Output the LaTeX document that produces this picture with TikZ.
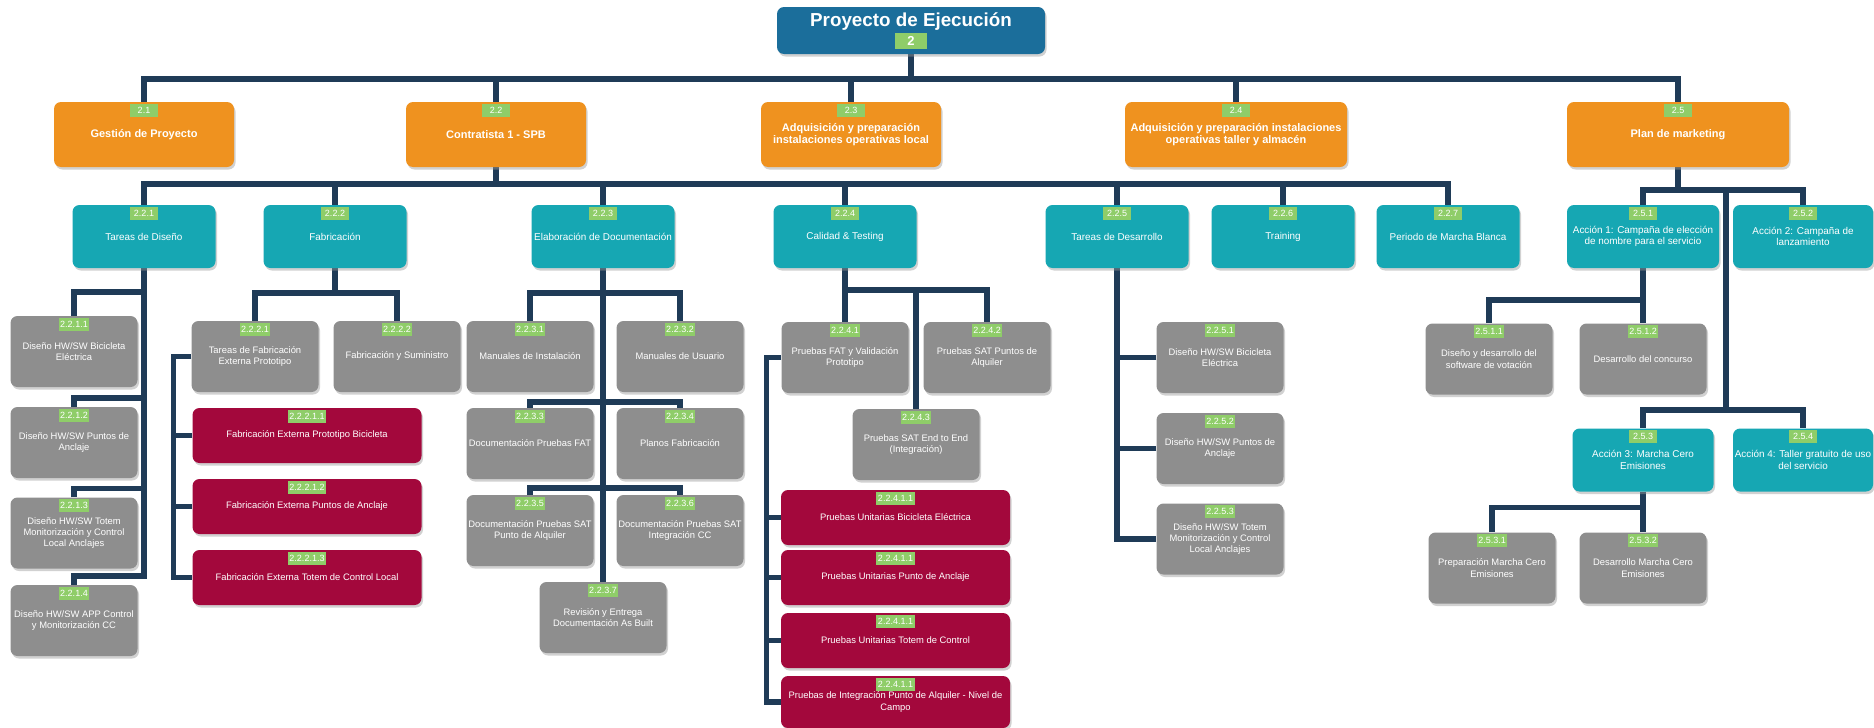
\documentclass[tikz,border=0pt]{standalone}
\usepackage{fontspec}
\setmainfont{Liberation Sans}
\usepackage{xcolor}
\usepackage{tikz}
\usetikzlibrary{shapes}
\usetikzlibrary{shadows}
\usetikzlibrary{backgrounds}

\definecolor{rootblue}{RGB}{27,110,155}
\definecolor{phaseorange}{RGB}{239,146,31}
\definecolor{taskteal}{RGB}{22,167,179}
\definecolor{itemgray}{RGB}{142,142,142}
\definecolor{subitemred}{RGB}{163,8,60}
\definecolor{codegreen}{RGB}{143,205,105}
\definecolor{linenavy}{RGB}{31,59,87}

\begin{document}
\begin{tikzpicture} [x=1pt, y=-1pt,
            % ----- Node definitions ----- %
            wbsbox/.style = {
                rectangle,
                rounded corners=7pt,
                align=center,
                text=white,
                inner xsep=1pt,
                inner ysep=0pt,
                drop shadow={shadow xshift=1.5pt, shadow yshift=-2.5pt, fill=black!40, opacity=0.45}
            },
            rootnode/.style = {
                wbsbox,
                fill=rootblue,
                minimum width=268pt,
                text height=16pt, text depth=25pt, inner ysep=3pt,
                font=\bfseries\fontsize{18.8}{20}\selectfont
            },
            phasenode/.style = {
                wbsbox,
                fill=phaseorange,
                minimum width=#1, minimum height=65pt,
                font=\bfseries\fontsize{11}{12.5}\selectfont
            },
            phasenode/.default=180pt,
            tasknode/.style = {
                wbsbox,
                fill=taskteal,
                minimum width=#1, minimum height=63pt,
                font=\fontsize{9.9}{11.5}\selectfont
            },
            tasknode/.default=143pt,
            itemnode/.style = {
                wbsbox,
                fill=itemgray,
                minimum width=127pt, minimum height=71pt,
                font=\fontsize{9.4}{11.3}\selectfont
            },
            subitemnode/.style = {
                wbsbox,
                fill=subitemred,
                minimum width=229pt, minimum height=#1,
                font=\fontsize{9.4}{11.3}\selectfont
            },
            subitemnode/.default=55pt,
            codenode/.style = {
                rectangle, sharp corners,
                fill=codegreen,
                text=white,
                inner sep=1.5pt,
                minimum width=28pt, minimum height=13pt,
                font=\fontsize{9}{10}\selectfont,
                anchor=north, yshift=-1.5pt
            },
            wbs/.style = {label={[codenode]north:#1}},
            treeline/.style = {draw=linenavy, line width=5.5pt}
    ]
    \useasboundingbox (0,0) rectangle (1874,728);

            % ----- Node constructions ----- %
        \node [rootnode, label={[codenode, font=\bfseries\fontsize{13}{14}\selectfont,
               minimum width=32pt, minimum height=16pt, anchor=south, yshift=7pt]south:2}]
               (root) at (911,30.5) {Proyecto de Ejecución};

        % level 2
        \node [phasenode, wbs=2.1] (p21) at (144,134.5) {Gestión de Proyecto};
        \node [phasenode, wbs=2.2] (p22) at (496,134.5) {Contratista 1 - SPB};
        \node [phasenode, wbs=2.3] (p23) at (851,134.5) {Adquisición y preparación\\instalaciones operativas local};
        \node [phasenode=222pt, wbs=2.4] (p24) at (1236,134.5) {Adquisición y preparación instalaciones\\operativas taller y almacén};
        \node [phasenode=222pt, wbs=2.5] (p25) at (1678,134.5) {Plan de marketing};

        % level 3
        \node [tasknode, wbs=2.2.1] (t221) at (144,236.5) {Tareas de Diseño};
        \node [tasknode, wbs=2.2.2] (t222) at (335,236.5) {Fabricación};
        \node [tasknode, wbs=2.2.3] (t223) at (603,236.5) {Elaboración de Documentación};
        \node [tasknode, wbs=2.2.4] (t224) at (845,236.5) {Calidad \& Testing};
        \node [tasknode, wbs=2.2.5] (t225) at (1117,236.5) {Tareas de Desarrollo};
        \node [tasknode, wbs=2.2.6] (t226) at (1283,236.5) {Training};
        \node [tasknode, wbs=2.2.7] (t227) at (1448,236.5) {Periodo de Marcha Blanca};
        \node [tasknode=152pt, wbs=2.5.1] (t251) at (1643,236.5) {Acción 1: Campaña de elección\\de nombre para el servicio};
        \node [tasknode=140pt, wbs=2.5.2] (t252) at (1803,236.5) {Acción 2: Campaña de\\lanzamiento};
        \node [tasknode=141pt, wbs=2.5.3] (t253) at (1643,460) {Acción 3: Marcha Cero\\Emisiones};
        \node [tasknode=140pt, wbs=2.5.4] (t254) at (1803,460) {Acción 4: Taller gratuito de uso\\del servicio};

        % level 4
        \node [itemnode, wbs=2.2.1.1] (i2211) at (74,351.5) {Diseño HW/SW Bicicleta\\Eléctrica};
        \node [itemnode, wbs=2.2.1.2] (i2212) at (74,442.5) {Diseño HW/SW Puntos de\\Anclaje};
        \node [itemnode, wbs=2.2.1.3] (i2213) at (74,533) {Diseño HW/SW Totem\\Monitorización y Control\\Local Anclajes};
        \node [itemnode, wbs=2.2.1.4] (i2214) at (74,620.5) {Diseño HW/SW APP Control\\y Monitorización CC};

        \node [itemnode, wbs=2.2.2.1] (i2221) at (255,356.5) {Tareas de Fabricación\\Externa Prototipo};
        \node [itemnode, wbs=2.2.2.2] (i2222) at (397,356.5) {Fabricación y Suministro};

        \node [itemnode, wbs=2.2.3.1] (i2231) at (530,356.5) {Manuales de Instalación};
        \node [itemnode, wbs=2.2.3.2] (i2232) at (680,356.5) {Manuales de Usuario};
        \node [itemnode, wbs=2.2.3.3] (i2233) at (530,443.5) {Documentación Pruebas FAT};
        \node [itemnode, wbs=2.2.3.4] (i2234) at (680,443.5) {Planos Fabricación};
        \node [itemnode, wbs=2.2.3.5] (i2235) at (530,530.5) {Documentación Pruebas SAT\\Punto de Alquiler};
        \node [itemnode, wbs=2.2.3.6] (i2236) at (680,530.5) {Documentación Pruebas SAT\\Integración CC};
        \node [itemnode, wbs=2.2.3.7] (i2237) at (603,617.5) {Revisión y Entrega\\Documentación As Built};

        \node [itemnode, wbs=2.2.4.1] (i2241) at (845,357.5) {Pruebas FAT y Validación\\Prototipo};
        \node [itemnode, wbs=2.2.4.2] (i2242) at (987,357.5) {Pruebas SAT Puntos de\\Alquiler};
        \node [itemnode, wbs=2.2.4.3] (i2243) at (916,444.5) {Pruebas SAT End to End\\(Integración)};

        \node [itemnode, wbs=2.2.5.1] (i2251) at (1220,357.5) {Diseño HW/SW Bicicleta\\Eléctrica};
        \node [itemnode, wbs=2.2.5.2] (i2252) at (1220,448.5) {Diseño HW/SW Puntos de\\Anclaje};
        \node [itemnode, wbs=2.2.5.3] (i2253) at (1220,539) {Diseño HW/SW Totem\\Monitorización y Control\\Local Anclajes};

        \node [itemnode, wbs=2.5.1.1] (i2511) at (1489,359) {Diseño y desarrollo del\\software de votación};
        \node [itemnode, wbs=2.5.1.2] (i2512) at (1643,359) {Desarrollo del concurso};
        \node [itemnode, wbs=2.5.3.1] (i2531) at (1492,568) {Preparación Marcha Cero\\Emisiones};
        \node [itemnode, wbs=2.5.3.2] (i2532) at (1643,568) {Desarrollo Marcha Cero\\Emisiones};

        % level 5
        \node [subitemnode, wbs=2.2.2.1.1] (s22211) at (307,435.5) {Fabricación Externa Prototipo Bicicleta};
        \node [subitemnode, wbs=2.2.2.1.2] (s22212) at (307,506.5) {Fabricación Externa Puntos de Anclaje};
        \node [subitemnode, wbs=2.2.2.1.3] (s22213) at (307,577.5) {Fabricación Externa Totem de Control Local};

        \node [subitemnode, wbs=2.2.4.1.1] (s2241a) at (895.5,517.5) {Pruebas Unitarias Bicicleta Eléctrica};
        \node [subitemnode, wbs=2.2.4.1.1] (s2241b) at (895.5,577.5) {Pruebas Unitarias Punto de Anclaje};
        \node [subitemnode, wbs=2.2.4.1.1] (s2241c) at (895.5,640.5) {Pruebas Unitarias Totem de Control};
        \node [subitemnode=52pt, wbs=2.2.4.1.1] (s2241d) at (895.5,702) {Pruebas de Integración Punto de Alquiler - Nivel de\\Campo};

            % ----- Connectors ----- %
        \begin{scope}[on background layer]
            \fill[white] (0,0) rectangle (1874,728);
            \foreach \n in {p21,p22,p23,p24,p25}
                \draw[treeline] (root.south) -- ++(0,25) -| (\n.north);
            \foreach \n in {t221,t222,t223,t224,t225,t226,t227}
                \draw[treeline] (p22.south) -- ++(0,17) -| (\n.north);

            \coordinate (j25) at (1726,410);
            \foreach \n in {t251,t252}
                \draw[treeline] (p25.south) -- ++(0,23) -| (\n.north);
            \draw[treeline] (p25.south) -- ++(0,23) -| (j25);
            \foreach \n in {t253,t254}
                \draw[treeline] (j25) -| (\n.north);

            \draw[treeline] (i2211.north) -- ++(0,-24) -| (t221.south);
            \foreach \n in {i2212,i2213,i2214}
                \draw[treeline] (\n.north) -- ++(0,-9) -| (t221.south);

            \foreach \n in {i2221,i2222}
                \draw[treeline] (t222.south) -- ++(0,25) -| (\n.north);
            \draw[treeline] (i2221.west) -- ++(-18,0) |- (s22213.west);
            \foreach \n in {s22211,s22212}
                \draw[treeline] (\n.west) -- ++(-18,0);

            \draw[treeline] (t223.south) -- (i2237.north);
            \draw[treeline] (i2231.north) -- ++(0,-28) -| (i2232.north);
            \draw[treeline] (i2233.north) -- ++(0,-6) -| (i2234.north);
            \draw[treeline] (i2235.north) -- ++(0,-7) -| (i2236.north);

            \foreach \n in {i2241,i2242,i2243}
                \draw[treeline] (t224.south) -- ++(0,22) -| (\n.north);
            \draw[treeline] (i2241.west) -- ++(-15,0) |- (s2241d.west);
            \foreach \n in {s2241a,s2241b,s2241c}
                \draw[treeline] (\n.west) -- ++(-15,0);

            \draw[treeline] (t225.south) |- (i2253.west);
            \foreach \n in {i2251,i2252}
                \draw[treeline] (\n.west) -- (\n.west -| t225.south);

            \foreach \n in {i2511,i2512}
                \draw[treeline] (t251.south) -- ++(0,32) -| (\n.north);
            \foreach \n in {i2531,i2532}
                \draw[treeline] (t253.south) -- ++(0,16) -| (\n.north);
        \end{scope}

\end{tikzpicture}
\end{document}
